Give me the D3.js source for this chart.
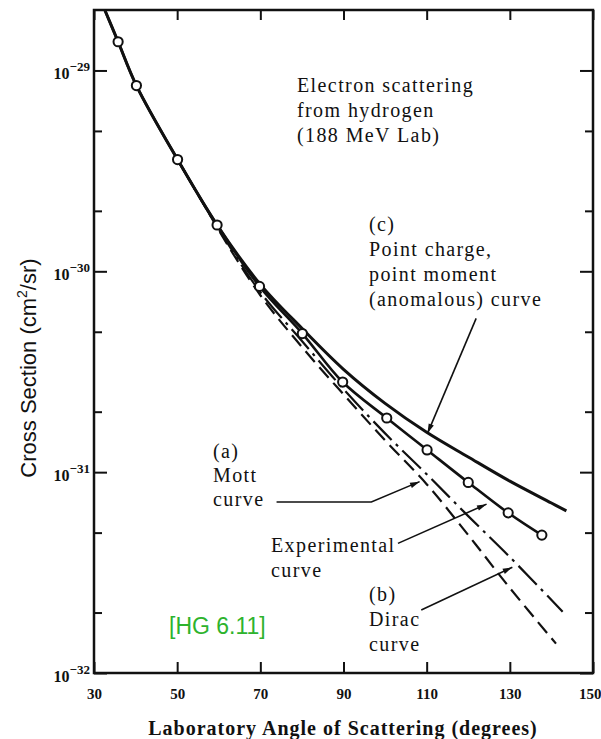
<!DOCTYPE html>
<html>
<head>
<meta charset="utf-8">
<script src="https://cdn.jsdelivr.net/npm/d3@7/dist/d3.min.js"></script>
<style>
  body { margin: 0; background: #fff; }
  svg { display: block; }
</style>
</head>
<body>
<div id="chart"></div>
<script>
// values: angle in degrees, cross section in cm^2/sr
var pointAngles = [35.8, 40.2, 50.1, 59.6, 69.8, 80.1, 89.8, 100.4, 110.1, 120.0, 129.6, 137.7];
var pointValues = [1.39e-29, 8.41e-30, 3.60e-30, 1.70e-30, 8.41e-31, 4.90e-31, 2.81e-31, 1.86e-31, 1.29e-31, 8.89e-32, 6.27e-32, 4.86e-32];

var expAngles = [32.6, 35.8, 40.2, 50.1, 59.6, 69.8, 80.1, 89.8, 100.4, 110.1, 120.0, 129.6, 137.7];
var expValues = [2.0e-29, 1.39e-29, 8.41e-30, 3.60e-30, 1.70e-30, 8.41e-31, 4.90e-31, 2.81e-31, 1.86e-31, 1.29e-31, 8.89e-32, 6.27e-32, 4.86e-32];

// (c) point charge, point moment (anomalous)
var anomAngles = [32.6, 35.8, 40.2, 50.1, 59.6, 70, 80, 90, 100, 110, 120, 130, 140, 143.6];
var anomValues = [2.0e-29, 1.39e-29, 8.41e-30, 3.60e-30, 1.70e-30, 8.61e-31, 5.20e-31, 3.25e-31, 2.20e-31, 1.58e-31, 1.19e-31, 9.02e-32, 7.02e-32, 6.41e-32];

// (a) Mott
var mottAngles = [50.1, 57, 60, 70, 80, 90, 100, 110, 120, 130, 141.1];
var mottValues = [3.60e-30, 2.05e-30, 1.60e-30, 7.60e-31, 4.20e-31, 2.44e-31, 1.44e-31, 8.71e-32, 4.86e-32, 2.65e-32, 1.40e-32];

// (b) Dirac
var diracAngles = [50.1, 57, 60, 70, 80, 90, 100, 110, 120, 130, 142.7];
var diracValues = [3.60e-30, 2.05e-30, 1.62e-30, 7.87e-31, 4.50e-31, 2.59e-31, 1.56e-31, 9.77e-32, 6.04e-32, 3.78e-32, 2.02e-32];

var xTicks = [30, 50, 70, 90, 110, 130, 150];
var yMajor = [1e-29, 1e-30, 1e-31, 1e-32];
var yMinor = [5e-30, 2e-30, 5e-31, 2e-31, 5e-32, 2e-32];
var yExponents = ["\u221229", "\u221230", "\u221231", "\u221232"];

function zip(a, v) { return a.map(function(d, i) { return {x: d, y: v[i]}; }); }

var margin = {top: 10, right: 8, bottom: 66, left: 94},
    width = 601 - margin.left - margin.right,
    height = 739 - margin.top - margin.bottom;

var svg = d3.select("#chart")
  .append("svg")
    .attr("width", 601)
    .attr("height", 739)
  .append("g")
    .attr("transform", "translate(" + margin.left + "," + margin.top + ")");

var x = d3.scaleLinear().domain([30, 150]).range([0, width]);
var y = d3.scaleLog().domain([1e-32, 2e-29]).range([height, 0]);

var serif = "'Liberation Serif', 'DejaVu Serif', serif";

// arrowhead
svg.append("defs").append("marker")
    .attr("id", "head")
    .attr("viewBox", "0 0 12 10")
    .attr("refX", 12).attr("refY", 5)
    .attr("markerWidth", 12).attr("markerHeight", 8)
    .attr("markerUnits", "userSpaceOnUse")
    .attr("orient", "auto")
  .append("path")
    .attr("d", "M0,1.5 L12,5 L0,8.5 z")
    .attr("fill", "#111");

// axes: ticks point inward on all four sides
var bottom = svg.append("g")
    .attr("transform", "translate(0," + height + ")")
    .call(d3.axisBottom(x).tickValues(xTicks).tickSize(-11).tickPadding(15).tickFormat(d3.format("d")));
svg.append("g")
    .call(d3.axisTop(x).tickValues(xTicks).tickSize(-10).tickFormat(""));

svg.append("g")
    .call(d3.axisLeft(y).tickValues(yMajor).tickSize(-13).tickFormat(""));
svg.append("g")
    .call(d3.axisLeft(y).tickValues(yMinor).tickSize(-8).tickFormat(""));
svg.append("g")
    .attr("transform", "translate(" + width + ",0)")
    .call(d3.axisRight(y).tickValues(yMajor).tickSize(-13).tickFormat(""));
svg.append("g")
    .attr("transform", "translate(" + width + ",0)")
    .call(d3.axisRight(y).tickValues(yMinor).tickSize(-8).tickFormat(""));

svg.selectAll(".domain").remove();
svg.selectAll(".tick line").attr("stroke", "#111").attr("stroke-width", 2);
bottom.selectAll("text")
    .attr("font-family", serif)
    .attr("font-size", 15)
    .attr("font-weight", "bold")
    .attr("fill", "#111");
// keep the last label inside the page
bottom.selectAll(".tick").filter(function(d) { return d === 150; }).select("text")
    .attr("text-anchor", "end")
    .attr("x", 8);

// 10^n labels on the y axis
yMajor.forEach(function(v, i) {
  var t = svg.append("text")
      .attr("x", -4)
      .attr("y", y(v) + 9)
      .attr("text-anchor", "end")
      .attr("font-family", serif)
      .attr("font-weight", "bold")
      .attr("font-size", 16)
      .attr("fill", "#111");
  t.append("tspan").text("10");
  t.append("tspan").attr("dy", -8).attr("font-size", 13).text(yExponents[i]);
});

// frame
svg.append("rect")
    .attr("width", width).attr("height", height)
    .attr("fill", "none")
    .attr("stroke", "#111")
    .attr("stroke-width", 2.5);

var line = d3.line()
    .x(function(d) { return x(d.x); })
    .y(function(d) { return y(d.y); })
    .curve(d3.curveCatmullRom.alpha(0.5));

svg.append("path")
    .datum(zip(mottAngles, mottValues))
    .attr("fill", "none").attr("stroke", "#111").attr("stroke-width", 2.2)
    .attr("stroke-dasharray", "14,7")
    .attr("d", line);

svg.append("path")
    .datum(zip(diracAngles, diracValues))
    .attr("fill", "none").attr("stroke", "#111").attr("stroke-width", 2.2)
    .attr("stroke-dasharray", "26,6,3,6")
    .attr("d", line);

svg.append("path")
    .datum(zip(anomAngles, anomValues))
    .attr("fill", "none").attr("stroke", "#111").attr("stroke-width", 3)
    .attr("d", line);

svg.append("path")
    .datum(zip(expAngles, expValues))
    .attr("fill", "none").attr("stroke", "#111").attr("stroke-width", 2.6)
    .attr("d", line);

svg.selectAll("circle.pt")
    .data(zip(pointAngles, pointValues))
  .enter().append("circle")
    .attr("class", "pt")
    .attr("cx", function(d) { return x(d.x); })
    .attr("cy", function(d) { return y(d.y); })
    .attr("r", 4.6)
    .attr("fill", "#fff")
    .attr("stroke", "#111")
    .attr("stroke-width", 2);

// annotation arrows, in data coordinates
var arrows = [
  [[121.9, 5.83e-31], [110.2, 1.56e-31]],
  [[73.9, 7.10e-32], [96.7, 7.10e-32], [108.3, 8.97e-32]],
  [[103.1, 4.42e-32], [124.4, 6.93e-32]],
  [[108.7, 2.06e-32], [130.6, 3.36e-32]]
];
var arrowLine = d3.line()
    .x(function(d) { return x(d[0]); })
    .y(function(d) { return y(d[1]); });
svg.selectAll("path.arrow")
    .data(arrows)
  .enter().append("path")
    .attr("class", "arrow")
    .attr("fill", "none")
    .attr("stroke", "#111")
    .attr("stroke-width", 1.6)
    .attr("marker-end", "url(#head)")
    .attr("d", arrowLine);

// text blocks (page coordinates)
var root = d3.select("#chart svg");
function block(lines, x0, y0, step) {
  lines.forEach(function(s, i) {
    root.append("text")
        .attr("x", x0).attr("y", y0 + i * step)
        .attr("font-family", serif)
        .attr("font-size", 20)
        .attr("letter-spacing", 1.4)
        .attr("fill", "#111")
        .text(s);
  });
}
block(["Electron scattering", "from hydrogen", "(188 MeV Lab)"], 297, 92, 25);
block(["(c)", "Point charge,", "point moment", "(anomalous) curve"], 369, 231, 25);
block(["(a)", "Mott", "curve"], 213, 458, 24);
block(["Experimental", "curve"], 271, 552, 25);
block(["(b)", "Dirac", "curve"], 369, 601, 25);

root.append("text")
    .attr("x", 169).attr("y", 634)
    .attr("font-family", "'Liberation Sans', Arial, sans-serif")
    .attr("font-size", 23)
    .attr("fill", "#2db32d")
    .text("[HG 6.11]");

root.append("text")
    .attr("x", 343).attr("y", 735)
    .attr("text-anchor", "middle")
    .attr("font-family", serif)
    .attr("font-weight", "bold")
    .attr("font-size", 20)
    .attr("letter-spacing", 1)
    .attr("fill", "#111")
    .text("Laboratory Angle of Scattering (degrees)");

var yt = root.append("text")
    .attr("text-anchor", "middle")
    .attr("transform", "translate(36,368)rotate(-90)")
    .attr("font-family", "'Liberation Sans', Arial, sans-serif")
    .attr("font-size", 22)
    .attr("fill", "#111");
yt.append("tspan").text("Cross Section (cm");
yt.append("tspan").attr("dy", -9).attr("font-size", 14).text("2");
yt.append("tspan").attr("dy", 9).text("/sr)");
</script>
</body>
</html>
